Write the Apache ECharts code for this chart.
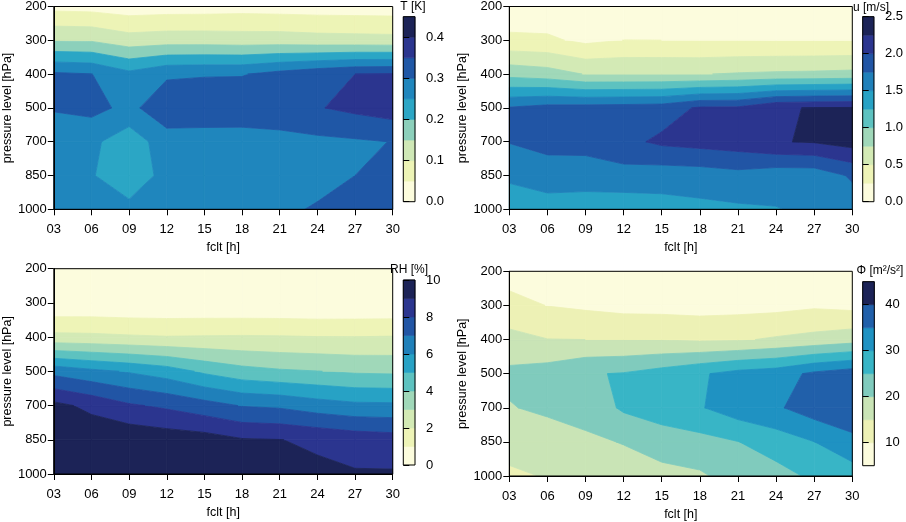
<!DOCTYPE html>
<html>
<head>
<meta charset="utf-8">
<script src="https://cdn.jsdelivr.net/npm/echarts@6/dist/echarts.min.js"></script>
<style>
html,body{margin:0;padding:0;background:#fff;}
#c{width:906px;height:522px;}
</style>
</head>
<body>
<div id="c"></div>
<script>
// ---------------- data ----------------
const fclt = [3, 6, 9, 12, 15, 18, 21, 24, 27, 30];
const fcltLabels = ['03', '06', '09', '12', '15', '18', '21', '24', '27', '30'];
const pressureLevels = [1000, 850, 700, 500, 400, 300, 200];

// rows: one per pressure level (1000 ... 200), columns: fclt
const T_values = [
  [0.26, 0.26, 0.265, 0.27, 0.275, 0.28, 0.29, 0.305, 0.31, 0.32],
  [0.26, 0.254, 0.215, 0.268, 0.275, 0.278, 0.28, 0.283, 0.30, 0.31],
  [0.255, 0.261, 0.22, 0.278, 0.271, 0.27, 0.276, 0.289, 0.294, 0.301],
  [0.306, 0.315, 0.287, 0.333, 0.34, 0.34, 0.345, 0.347, 0.362, 0.376],
  [0.308, 0.301, 0.263, 0.293, 0.296, 0.297, 0.317, 0.335, 0.35, 0.353],
  [0.147, 0.145, 0.122, 0.128, 0.128, 0.125, 0.125, 0.12, 0.118, 0.116],
  [0.035, 0.032, 0.023, 0.026, 0.027, 0.03, 0.028, 0.026, 0.025, 0.024]
];
const u_values = [
  [1.30, 1.34, 1.303, 1.342, 1.402, 1.438, 1.462, 1.49, 1.55, 1.62],
  [1.56, 1.672, 1.678, 1.658, 1.615, 1.626, 1.671, 1.6, 1.6, 1.784],
  [1.76, 1.8, 1.8, 1.93, 2.05, 2.093, 2.134, 2.235, 2.27, 2.352],
  [1.77, 1.838, 1.85, 1.862, 1.88, 2.034, 2.04, 2.23, 2.26, 2.27],
  [0.917, 0.861, 0.739, 0.74, 0.74, 0.74, 0.77, 0.79, 0.8, 0.82],
  [0.31, 0.294, 0.197, 0.252, 0.25, 0.245, 0.245, 0.24, 0.24, 0.24],
  [0.06, 0.065, 0.05, 0.05, 0.05, 0.05, 0.05, 0.05, 0.05, 0.05]
];
const RH_values = [
  [9.8, 9.85, 9.85, 9.8, 9.7, 9.6, 9.3, 9.2, 9.08, 9.09],
  [9.6, 9.71, 9.74, 9.57, 9.44, 9.08, 9.02, 8.84, 8.6, 8.47],
  [9.28, 8.75, 8.13, 7.82, 7.4, 6.95, 6.83, 6.47, 6.23, 6.2],
  [6.68, 6.25, 5.91, 5.5, 4.82, 4.35, 4.13, 4.02, 3.87, 3.82],
  [2.28, 2.23, 2.13, 2.05, 2.08, 2.1, 2.08, 2.03, 2.02, 2.06],
  [0.13, 0.16, 0.12, 0.12, 0.12, 0.11, 0.1, 0.07, 0.09, 0.08],
  [0.05, 0.05, 0.04, 0.04, 0.04, 0.03, 0.03, 0.03, 0.03, 0.03]
];
const Phi_values = [
  [14.1, 15.3, 16.5, 18, 18.3, 19.3, 22, 23.2, 25.9, 27.4],
  [17, 17.3, 19.2, 20.2, 22.5, 23.3, 24.9, 27.4, 29.95, 33.7],
  [19.7, 21, 21.6, 25.8, 27.5, 29.6, 32.7, 34.3, 37.6, 38.5],
  [21.08, 22.3, 24.6, 25.3, 27.1, 29.4, 31.7, 32.8, 36, 37.9],
  [16.57, 15.1, 15, 14.9, 14.8, 14.3, 14.5, 15.6, 16.6, 17.9],
  [11.5, 9.9, 9.15, 8.4, 8.3, 8.05, 8.3, 8.5, 9.3, 8.6],
  [8, 7, 6, 6, 6, 6, 6, 6, 6, 6.2]
];

// contour levels (band edges)
const T_levels = [0, 0.05, 0.1, 0.15, 0.2, 0.25, 0.3, 0.35, 0.4, 0.45];
const u_levels = [0, 0.25, 0.5, 0.75, 1, 1.25, 1.5, 1.75, 2, 2.25, 2.5];
const RH_levels = [0, 1, 2, 3, 4, 5, 6, 7, 8, 9, 10];
const Phi_levels = [5, 10, 15, 20, 25, 30, 35, 40, 45];

// colour-key tick labels
const T_keyTicks = [0, 0.1, 0.2, 0.3, 0.4];
const u_keyTicks = [0, 0.5, 1, 1.5, 2, 2.5];
const RH_keyTicks = [0, 2, 4, 6, 8, 10];
const Phi_keyTicks = [10, 20, 30, 40];

const keyTitles = ['T [K]', 'u [m/s]', 'RH [%]', 'Φ [m²/s²]'];
const xTitle = 'fclt [h]';
const yTitle = 'pressure level [hPa]';

// ---------------- styles ----------------
const T_colors = ['#FCFCDD', '#EDF4B6', '#CFE8B6', '#8CD0BB', '#2BA6C5', '#1F86BD', '#1F57A6', '#2B358F', '#1C2357'];
const u_colors = ['#FCFCDD', '#EEF4B7', '#D3EAB5', '#A0D8B9', '#5DC2C0', '#27A2C5', '#1F80BA', '#2155A5', '#2B358F', '#1C2357'];
const RH_colors = ['#FCFCDD', '#EEF4B7', '#D3EAB5', '#A0D8B9', '#5DC2C0', '#27A2C5', '#1F80BA', '#2155A5', '#2B358F', '#1C2357'];
const Phi_colors = ['#FCFCDD', '#EDF1B5', '#C9E4B6', '#80CBBD', '#38B5C6', '#1F92C2', '#2160AA', '#1C2357'];

const layout = [
  { grid: { left: 50, top: 5, width: 342.7, height: 204.3 }, key: { left: 403.3, top: 16.7, width: 11.7, height: 185 }, title: [413, 7], dec: 1 },
  { grid: { left: 509.3, top: 5, width: 343, height: 204.3 }, key: { left: 862.7, top: 16.7, width: 11.6, height: 185 }, title: [871, 7.5], dec: 1 },
  { grid: { left: 50, top: 268.7, width: 342.7, height: 205.3 }, key: { left: 403.3, top: 280, width: 11.7, height: 185 }, title: [409, 269.5], dec: 0 },
  { grid: { left: 509.3, top: 271.3, width: 343, height: 204.7 }, key: { left: 862.7, top: 281.7, width: 11.6, height: 184 }, title: [880, 271], dec: 0 }
];

const panels = [
  { values: T_values, levels: T_levels, colors: T_colors, ticks: T_keyTicks },
  { values: u_values, levels: u_levels, colors: u_colors, ticks: u_keyTicks },
  { values: RH_values, levels: RH_levels, colors: RH_colors, ticks: RH_keyTicks },
  { values: Phi_values, levels: Phi_levels, colors: Phi_colors, ticks: Phi_keyTicks }
];

const FONT = '"Liberation Sans", Arial, Helvetica, sans-serif';
const INK = '#000';

// ---------------- contour helpers ----------------
function clipHalf(poly, f) {
  const res = [];
  const n = poly.length;
  for (let k = 0; k < n; k++) {
    const P = poly[k], Q = poly[(k + 1) % n];
    const fp = f(P), fq = f(Q);
    if (fp >= 0) res.push(P);
    if ((fp >= 0) !== (fq >= 0)) {
      const t = fp / (fp - fq);
      res.push({ x: P.x + t * (Q.x - P.x), y: P.y + t * (Q.y - P.y), v: P.v + t * (Q.v - P.v) });
    }
  }
  return res;
}
function clipBand(poly, lo, hi) {
  let out = clipHalf(poly, p => p.v - lo);
  if (out.length < 3) return [];
  out = clipHalf(out, p => hi - p.v);
  return out;
}

const cells = [];
for (let j = 0; j < pressureLevels.length - 1; j++) {
  for (let i = 0; i < fclt.length - 1; i++) {
    cells.push([fclt[i], j, i, j]);
  }
}

function contourRender(panel) {
  return function (params, api) {
    const i = api.value(2), j = api.value(3);
    const Z = panel.values;
    const corners = [[i, j], [i + 1, j], [i + 1, j + 1], [i, j + 1]].map(function (c) {
      const p = api.coord([fclt[c[0]], c[1]]);
      return { x: p[0], y: p[1], v: Z[c[1]][c[0]] };
    });
    const children = [];
    for (let k = 0; k < panel.levels.length - 1; k++) {
      const poly = clipBand(corners, panel.levels[k], panel.levels[k + 1]);
      if (poly.length >= 3) {
        children.push({
          type: 'polygon',
          shape: { points: poly.map(q => [q.x, q.y]) },
          style: { fill: panel.colors[k], stroke: panel.colors[k], lineWidth: 0.8 }
        });
      }
    }
    return { type: 'group', children: children };
  };
}

// ---------------- build option ----------------
const grids = [], xAxes = [], yAxes = [], series = [], graphics = [];

panels.forEach(function (panel, k) {
  const L = layout[k];
  const gi = 2 * k, ki = 2 * k + 1;
  grids.push(Object.assign({ show: false }, L.grid));
  grids.push(Object.assign({ show: false }, L.key));

  xAxes.push({
    gridIndex: gi, type: 'value', min: 3, max: 30, interval: 3, z: 10,
    name: xTitle, nameLocation: 'middle', nameGap: 32,
    nameTextStyle: { fontSize: 12.5, color: INK, fontFamily: FONT },
    axisLine: { show: true, lineStyle: { color: INK, width: 1 } },
    axisTick: { show: true, inside: false, length: 6, lineStyle: { color: INK, width: 1 } },
    axisLabel: { fontSize: 13, color: INK, margin: 14, fontFamily: FONT,
      formatter: v => { const idx = fclt.indexOf(Math.round(v)); return idx >= 0 ? fcltLabels[idx] : ''; } },
    splitLine: { show: false }
  });
  yAxes.push({
    gridIndex: gi, type: 'value', min: 0, max: pressureLevels.length - 1, interval: 1, z: 10,
    name: yTitle, nameLocation: 'middle', nameGap: 36.5,
    nameTextStyle: { fontSize: 12.5, color: INK, fontFamily: FONT },
    axisLine: { show: true, lineStyle: { color: INK, width: 1 } },
    axisTick: { show: true, inside: false, length: 6, lineStyle: { color: INK, width: 1 } },
    axisLabel: { fontSize: 13, color: INK, margin: 7, fontFamily: FONT,
      formatter: v => String(pressureLevels[Math.round(v)]) },
    splitLine: { show: false }
  });

  const lv = panel.levels;
  xAxes.push({ gridIndex: ki, type: 'value', min: 0, max: 1, show: false });
  yAxes.push({
    gridIndex: ki, type: 'value', position: 'right', min: lv[0], max: lv[lv.length - 1], z: 10,
    axisLine: { show: false },
    axisTick: { show: true, inside: false, length: 6, customValues: panel.ticks, lineStyle: { color: INK, width: 1 } },
    axisLabel: { show: true, fontSize: 13, color: INK, margin: 11, fontFamily: FONT, customValues: panel.ticks,
      formatter: v => Number(v).toFixed(L.dec) },
    splitLine: { show: false }
  });

  // filled contours
  series.push({
    type: 'custom', coordinateSystem: 'cartesian2d', xAxisIndex: gi, yAxisIndex: gi,
    data: cells, renderItem: contourRender(panel), silent: true, z: 2, animation: false
  });
  // plot frame
  series.push({
    type: 'custom', coordinateSystem: 'cartesian2d', xAxisIndex: gi, yAxisIndex: gi,
    data: [[fclt[0], 0]], silent: true, z: 6, animation: false,
    renderItem: function (params, api) {
      const a = api.coord([fclt[0], 0]);
      const b = api.coord([fclt[fclt.length - 1], pressureLevels.length - 1]);
      return { type: 'rect', shape: { x: a[0], y: b[1], width: b[0] - a[0], height: a[1] - b[1] },
        style: { fill: 'none', stroke: INK, lineWidth: 1 } };
    }
  });
  // colour key bands
  const keyData = [];
  for (let b = 0; b < lv.length - 1; b++) keyData.push([0.5, lv[b], b]);
  series.push({
    type: 'custom', coordinateSystem: 'cartesian2d', xAxisIndex: ki, yAxisIndex: ki,
    data: keyData, silent: true, z: 2, animation: false,
    renderItem: function (params, api) {
      const b = api.value(2);
      const p1 = api.coord([0, lv[b]]);
      const p2 = api.coord([1, lv[b + 1]]);
      return { type: 'rect', shape: { x: p1[0], y: p2[1], width: p2[0] - p1[0], height: p1[1] - p2[1] },
        style: { fill: panel.colors[b], stroke: panel.colors[b], lineWidth: 0.6 } };
    }
  });
  // key frame
  series.push({
    type: 'custom', coordinateSystem: 'cartesian2d', xAxisIndex: ki, yAxisIndex: ki,
    data: [[0.5, lv[0]]], silent: true, z: 6, animation: false,
    renderItem: function (params, api) {
      const a = api.coord([0, lv[0]]);
      const b = api.coord([1, lv[lv.length - 1]]);
      return { type: 'rect', shape: { x: a[0], y: b[1], width: b[0] - a[0], height: a[1] - b[1] },
        style: { fill: 'none', stroke: INK, lineWidth: 1 } };
    }
  });

  graphics.push({
    type: 'text', x: L.title[0], y: L.title[1], z: 20,
    style: { text: keyTitles[k], fill: INK, fontSize: 12, fontFamily: FONT,
      align: 'center', verticalAlign: 'middle', textAlign: 'center', textVerticalAlign: 'middle' }
  });
});

const chart = echarts.init(document.getElementById('c'), null, { renderer: 'canvas' });
chart.setOption({
  animation: false,
  backgroundColor: '#fff',
  textStyle: { fontFamily: FONT, color: INK },
  grid: grids,
  xAxis: xAxes,
  yAxis: yAxes,
  series: series,
  graphic: graphics
});
</script>
</body>
</html>
